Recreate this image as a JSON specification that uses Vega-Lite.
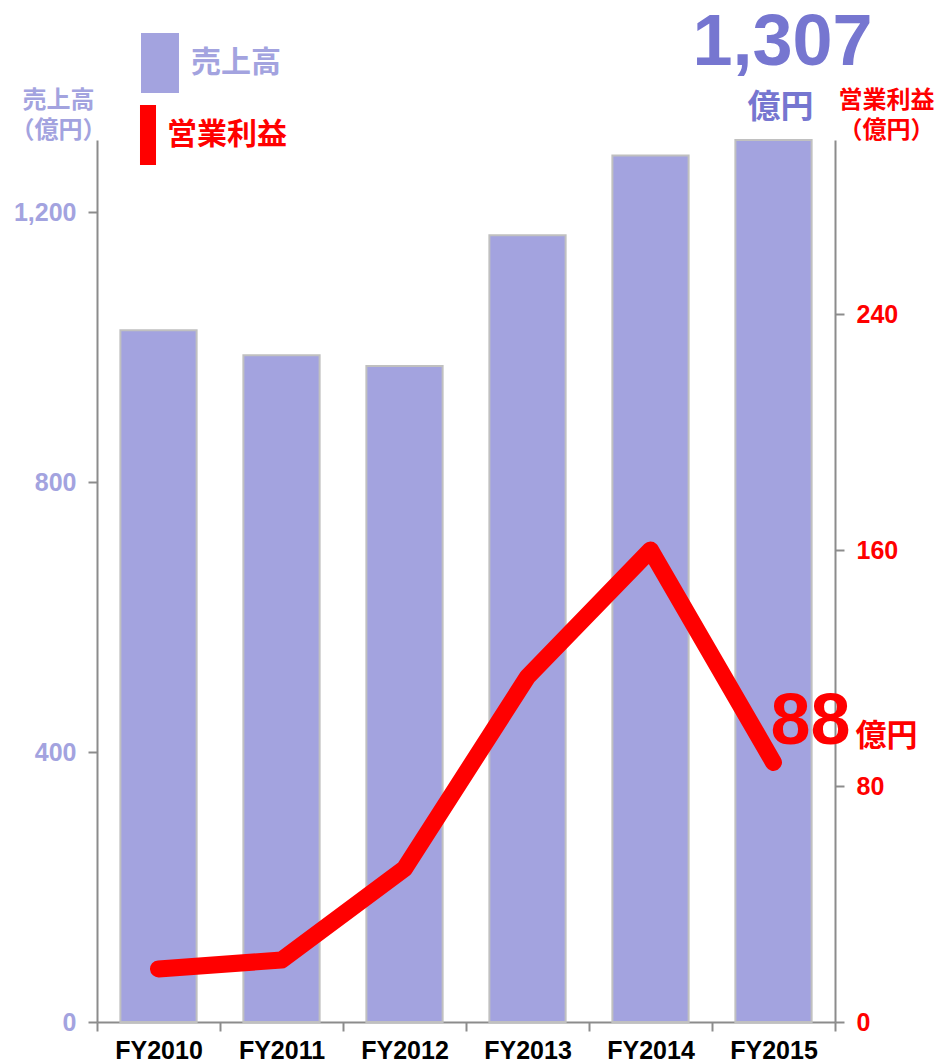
{
  "$schema": "https://vega.github.io/schema/vega-lite/v6.json",
  "autosize": {"type": "none"},
  "padding": {"left": 97, "top": 140, "right": 108, "bottom": 42},
  "width": 738,
  "height": 882,
  "background": "#ffffff",
  "config": {
    "view": {"stroke": null},
    "axis": {"grid": false, "domainColor": "#8c8c8c", "domainWidth": 2, "tickColor": "#8c8c8c", "tickWidth": 2, "tickSize": 9}
  },
  "data": {
    "values": [
      {"year": "FY2010", "sales": 1025, "profit": 18},
      {"year": "FY2011", "sales": 988, "profit": 21},
      {"year": "FY2012", "sales": 972, "profit": 52},
      {"year": "FY2013", "sales": 1166, "profit": 117},
      {"year": "FY2014", "sales": 1284, "profit": 160},
      {"year": "FY2015", "sales": 1307, "profit": 88}
    ]
  },
  "encoding": {
    "x": {
      "field": "year",
      "type": "nominal",
      "sort": null,
      "scale": {"paddingInner": 0, "paddingOuter": 0},
      "axis": {
        "title": null,
        "labelAngle": 0,
        "labelFont": "Liberation Sans",
        "labelFontWeight": "bold",
        "labelFontSize": 25,
        "labelColor": "#000000",
        "labelPadding": 7,
        "tickBand": "extent",
        "labelBaseline": "top"
      }
    }
  },
  "layer": [
    {
      "layer": [
        {
          "mark": {"type": "bar", "stroke": "#c0c0c0", "strokeWidth": 2, "width": {"band": 0.62}},
          "encoding": {
            "y": {
              "field": "sales",
              "type": "quantitative",
              "scale": {"domain": [0, 1307], "nice": false, "zero": true},
              "axis": {
                "orient": "left",
                "values": [0, 400, 800, 1200],
                "format": ",.0f",
                "labelFont": "Liberation Sans",
                "labelFontWeight": "bold",
                "labelFontSize": 25,
                "labelColor": "#a3a3df",
                "labelPadding": 12,
                "title": ["売上高", "（億円）"],
                "titleFont": "Noto Sans CJK JP",
                "titleFontWeight": "bold",
                "titleFontSize": 24,
                "titleColor": "#a3a3df",
                "titleAngle": 0,
                "titleAlign": "center",
                "titleBaseline": "alphabetic",
                "titleLineHeight": 30,
                "titleX": -39,
                "titleY": -33
              }
            },
            "fill": {
              "datum": "売上高",
              "scale": {"range": ["#a3a3df"]},
              "legend": {
                "orient": "none",
                "legendX": 33,
                "legendY": -107,
                "padding": 0,
                "title": null,
                "symbolType": "M-0.633,-1H0.633V1H-0.633Z",
                "symbolSize": 3600,
                "symbolStrokeWidth": 0,
                "labelFont": "Noto Sans CJK JP",
                "labelFontWeight": "bold",
                "labelFontSize": 30,
                "labelColor": "#a3a3df",
                "labelOffset": 1,
                "encode": {"symbols": {"update": {"size": {"value": 3600}, "strokeWidth": {"value": 0}}}}
              }
            }
          }
        },
        {
          "transform": [{"filter": "datum.year == 'FY2015'"}],
          "mark": {"type": "text", "font": "Liberation Sans", "fontWeight": "bold", "fontSize": 72, "color": "#7676d0", "align": "center", "baseline": "alphabetic", "dx": 9, "dy": -75},
          "encoding": {
            "y": {"field": "sales", "type": "quantitative"},
            "text": {"field": "sales", "type": "quantitative", "format": ",.0f"}
          }
        },
        {
          "transform": [{"filter": "datum.year == 'FY2015'"}],
          "mark": {"type": "text", "font": "Noto Sans CJK JP", "fontWeight": "bold", "fontSize": 33, "color": "#7676d0", "align": "center", "baseline": "alphabetic", "dx": 7, "dy": -22},
          "encoding": {
            "y": {"field": "sales", "type": "quantitative"},
            "text": {"value": "億円"}
          }
        }
      ]
    },
    {
      "layer": [
        {
          "mark": {"type": "line", "strokeWidth": 17, "strokeCap": "round", "strokeJoin": "round"},
          "encoding": {
            "y": {
              "field": "profit",
              "type": "quantitative",
              "scale": {"domain": [0, 299], "nice": false, "zero": true},
              "axis": {
                "orient": "right",
                "values": [0, 80, 160, 240],
                "labelFont": "Liberation Sans",
                "labelFontWeight": "bold",
                "labelFontSize": 25,
                "labelColor": "#ff0000",
                "labelPadding": 12,
                "title": ["営業利益", "（億円）"],
                "titleFont": "Noto Sans CJK JP",
                "titleFontWeight": "bold",
                "titleFontSize": 24,
                "titleColor": "#ff0000",
                "titleAngle": 0,
                "titleAlign": "left",
                "titleBaseline": "alphabetic",
                "titleLineHeight": 30,
                "titleX": 3,
                "titleY": -33
              }
            },
            "stroke": {
              "datum": "営業利益",
              "scale": {"range": ["#ff0000"]},
              "legend": {
                "orient": "none",
                "legendX": 21,
                "legendY": -35,
                "padding": 0,
                "title": null,
                "symbolType": "M-0.267,-1H0.267V1H-0.267Z",
                "symbolSize": 3600,
                "symbolFillColor": "#ff0000",
                "symbolStrokeWidth": 0,
                "labelFont": "Noto Sans CJK JP",
                "labelFontWeight": "bold",
                "labelFontSize": 30,
                "labelColor": "#ff0000",
                "labelOffset": -11,
                "encode": {"symbols": {"update": {"size": {"value": 3600}, "fill": {"value": "#ff0000"}, "strokeWidth": {"value": 0}}}}
              }
            }
          }
        },
        {
          "transform": [{"filter": "datum.year == 'FY2015'"}],
          "mark": {"type": "text", "font": "Liberation Sans", "fontWeight": "bold", "fontSize": 72, "color": "#ff0000", "align": "left", "baseline": "alphabetic", "dx": -3, "dy": -18},
          "encoding": {
            "y": {"field": "profit", "type": "quantitative"},
            "text": {"field": "profit", "type": "quantitative"}
          }
        },
        {
          "transform": [{"filter": "datum.year == 'FY2015'"}],
          "mark": {"type": "text", "font": "Noto Sans CJK JP", "fontWeight": "bold", "fontSize": 31, "color": "#ff0000", "align": "left", "baseline": "alphabetic", "dx": 82, "dy": -16},
          "encoding": {
            "y": {"field": "profit", "type": "quantitative"},
            "text": {"value": "億円"}
          }
        }
      ]
    }
  ],
  "resolve": {"scale": {"y": "independent", "fill": "independent", "stroke": "independent"}}
}
